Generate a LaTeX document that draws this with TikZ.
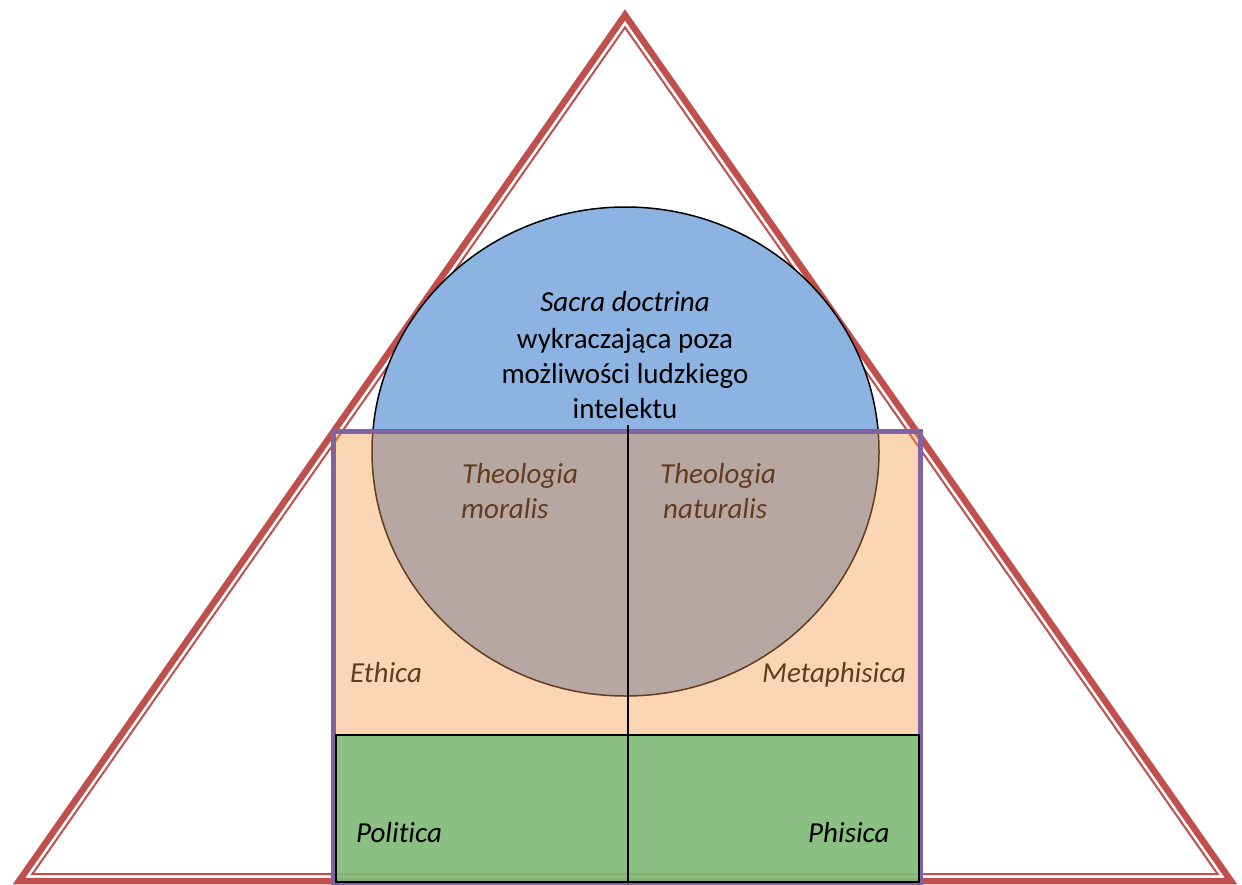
\documentclass[tikz,border=0pt]{standalone}
\usepackage{fontspec}
\setmainfont[Ligatures={NoCommon}]{Carlito}
\definecolor{tri}{HTML}{C0504D}
\definecolor{circ}{HTML}{8DB3E2}
\definecolor{peach}{HTML}{F79646}
\definecolor{grn}{RGB}{118,189,122}
\definecolor{purp}{HTML}{8064A2}
\tikzset{
  txt/.style={inner sep=0pt, font=\fontsize{29}{35}\selectfont},
  lab/.style={inner sep=0pt, font=\fontsize{29}{35}\selectfont\itshape},
  triout/.style={draw=tri, line width=6.5pt, line join=miter},
  triin/.style={draw=tri, line width=2pt, line join=miter},
}
\begin{document}
\begin{tikzpicture}[x=1pt,y=-1pt]
\useasboundingbox (0,0) rectangle (1242,885);
% triangle
\coordinate (A) at (625,15);
\coordinate (B) at (19,881);
\coordinate (C) at (1231,881);
\coordinate (Ai) at (625,27.4);
\coordinate (Bi) at (32.4,874);
\coordinate (Ci) at (1217.6,874);
\draw[triout] (A) -- (B) -- (C) -- cycle;
\draw[triin] (Ai) -- (Bi) -- (Ci) -- cycle;
% circle
\draw[fill=circ, line width=1.5pt] (625.5,451.5) ellipse [x radius=253.5pt, y radius=244.5pt];
% labels under the translucent layer
\node[lab, anchor=base west] (tm1) at (462,483) {Theologia};
\node[lab, anchor=base west] (tm2) at (461,518) {moralis};
\node[lab, anchor=base west] (tn1) at (660,483) {Theologia};
\node[lab, anchor=base west] (tn2) at (663,518) {naturalis};
\node[lab, anchor=base west] (eth) at (350,682) {Ethica};
\node[lab, anchor=base west] (met) at (762,682) {Metaphisica};
% translucent rectangle
\fill[peach, fill opacity=0.4] (333.5,431) rectangle (920.5,883);
% purple frame
\draw[purp, line width=5pt] (333.5,431) rectangle (920.5,884);
% green box
\draw[fill=grn, fill opacity=0.85, draw=black, line width=1.8pt] (336,735) rectangle (919,882);
% divider
\coordinate (vt) at (628,425);
\coordinate (vb) at (628,882);
\draw[line width=1.8pt] (vt) -- (vb);
\node[lab, anchor=base west] (pol) at (356,842) {Politica};
\node[lab, anchor=base west] (phi) at (808,842) {Phisica};
% main text
\node[lab, anchor=base] (s1) at (625,312) {Sacra doctrina};
\node[txt, anchor=base] (s2) at (625,348) {wykraczająca poza};
\node[txt, anchor=base] (s3) at (625,383) {możliwości ludzkiego};
\node[txt, anchor=base] (s4) at (625,418) {intelektu};
\end{tikzpicture}
\end{document}
